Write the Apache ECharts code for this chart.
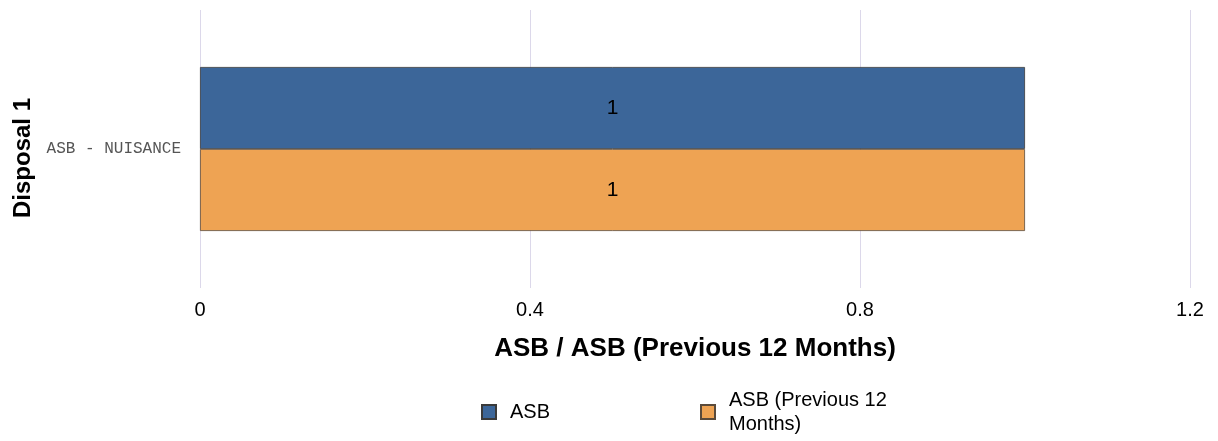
<!DOCTYPE html>
<html>
<head>
<meta charset="utf-8">
<script src="https://cdn.jsdelivr.net/npm/echarts@6/dist/echarts.min.js"></script>
<style>html,body{margin:0;padding:0;background:#fff;}#c{width:1218px;height:441px;}</style>
</head>
<body>
<div id="c"></div>
<script>
const categories = ['ASB - NUISANCE'];
const seriesNames = ['ASB', 'ASB (Previous 12 Months)'];
const asbValues = [1];
const asbPrevValues = [1];
const xTicks = [0, 0.4, 0.8, 1.2];

const chart = echarts.init(document.getElementById('c'), null, {renderer: 'canvas'});
chart.setOption({
  animation: false,
  backgroundColor: '#ffffff',
  grid: {left: 200, right: 28, top: 10, bottom: 153, containLabel: false, outerBoundsMode: 'none'},
  xAxis: {
    type: 'value', min: xTicks[0], max: xTicks[xTicks.length - 1], interval: 0.4,
    name: 'ASB / ASB (Previous 12 Months)', nameLocation: 'middle', nameGap: 48,
    nameTextStyle: {fontFamily: 'Liberation Sans, Arial', fontWeight: 'bold', fontSize: 26, color: '#000'},
    axisLine: {show: false}, axisTick: {show: false},
    axisLabel: {fontFamily: 'Liberation Sans, Arial', fontSize: 20, color: '#000', margin: 12},
    splitLine: {show: true, lineStyle: {color: '#dcd8ea', width: 1}}
  },
  yAxis: {
    type: 'category', data: categories, inverse: true,
    name: 'Disposal 1', nameLocation: 'middle', nameGap: 165, nameRotate: 90,
    nameTextStyle: {fontFamily: 'Liberation Sans, Arial', fontWeight: 'bold', fontSize: 24, color: '#000', padding: [0, 18, 0, 0]},
    axisLine: {show: false}, axisTick: {show: false},
    axisLabel: {fontFamily: 'Liberation Mono, Courier New, monospace', fontSize: 16, color: '#555', margin: 19}
  },
  legend: {
    bottom: 0, left: 476, itemWidth: 14, itemHeight: 14, itemGap: 18,
    icon: 'rect',
    textStyle: {fontFamily: 'Liberation Sans, Arial', fontSize: 20, color: '#000', width: 172, overflow: 'break', lineHeight: 24, padding: [0, 0, 0, 9]},
    data: seriesNames
  },
  series: [
    {
      name: seriesNames[0], type: 'bar', data: asbValues, barWidth: 82, barGap: '0%',
      itemStyle: {color: '#3c6699', borderColor: '#3a3a3a', borderWidth: 0.8},
      label: {show: true, position: 'inside', fontFamily: 'Liberation Sans, Arial', fontSize: 21, color: '#000'}
    },
    {
      name: seriesNames[1], type: 'bar', data: asbPrevValues, barWidth: 82, barGap: '0%',
      itemStyle: {color: '#eea353', borderColor: '#5a4a3a', borderWidth: 0.8},
      label: {show: true, position: 'inside', fontFamily: 'Liberation Sans, Arial', fontSize: 21, color: '#000'}
    }
  ]
});
</script>
</body>
</html>
